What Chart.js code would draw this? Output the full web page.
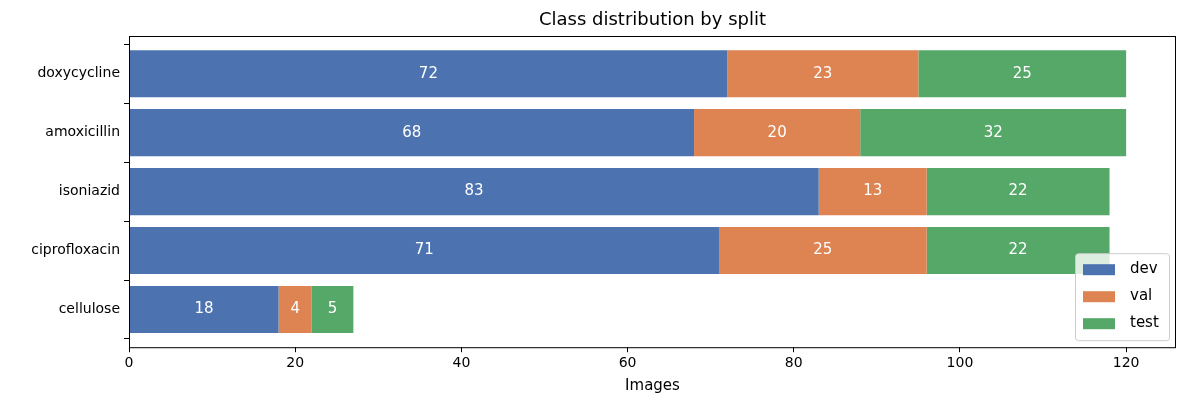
<!DOCTYPE html>
<html>
<head>
<meta charset="utf-8">
<script src="https://cdn.jsdelivr.net/npm/chart.js@4"></script>
<style>
  html, body { margin: 0; padding: 0; background: #fff; }
  #wrap { width: 1187px; height: 409px; }
</style>
</head>
<body>
<div id="wrap"><canvas id="c" width="1187" height="409"></canvas></div>
<script>
var categories = ['doxycycline', 'amoxicillin', 'isoniazid', 'ciprofloxacin', 'cellulose'];
var devValues = [72, 68, 83, 71, 18];
var valValues = [23, 20, 13, 25, 4];
var testValues = [25, 32, 22, 22, 5];
var xTicks = [0, 20, 40, 60, 80, 100, 120];

var font = 'DejaVu Sans, sans-serif';
Chart.defaults.font.family = font;
Chart.defaults.color = '#000';

function points(vals) {
    return vals.map(function (v, i) { return { x: v, y: i }; });
}

var barLabels = {
    id: 'barLabels',
    afterDatasetsDraw: function (chart) {
        var ctx = chart.ctx;
        ctx.save();
        ctx.fillStyle = '#fff';
        ctx.font = '15px ' + font;
        ctx.textAlign = 'center';
        ctx.textBaseline = 'middle';
        chart.data.datasets.forEach(function (ds, di) {
            chart.getDatasetMeta(di).data.forEach(function (bar, i) {
                var c = bar.getCenterPoint();
                ctx.fillText(String(ds.data[i].x), c.x, c.y);
            });
        });
        ctx.restore();
    }
};

var boxLegend = {
    id: 'boxLegend',
    afterDraw: function (chart) {
        var ctx = chart.ctx, a = chart.chartArea;
        var x0 = a.right - 101, y0 = a.bottom - 94, w = 94, h = 87;
        ctx.save();
        ctx.fillStyle = 'rgba(255,255,255,0.8)';
        ctx.strokeStyle = '#ccc';
        ctx.lineWidth = 1;
        ctx.beginPath();
        ctx.roundRect(x0 + 0.5, y0 + 0.5, w, h, 3);
        ctx.fill();
        ctx.stroke();
        ctx.font = '15px ' + font;
        ctx.textBaseline = 'middle';
        chart.data.datasets.forEach(function (ds, i) {
            var yy = y0 + 16 + i * 27;
            ctx.fillStyle = ds.backgroundColor;
            ctx.fillRect(x0 + 8, yy - 5, 32, 11);
            ctx.fillStyle = '#000';
            ctx.fillText(ds.label, x0 + 55, yy);
        });
        ctx.restore();
    }
};

var titlePlugin = {
    id: 'titlePlugin',
    afterDraw: function (chart) {
        var ctx = chart.ctx, a = chart.chartArea;
        ctx.save();
        ctx.font = '18px ' + font;
        ctx.textAlign = 'center';
        ctx.textBaseline = 'middle';
        ctx.fillStyle = '#000';
        ctx.fillText('Class distribution by split', (a.left + a.right) / 2, 20);
        ctx.strokeStyle = '#000';
        ctx.lineWidth = 1;
        ctx.strokeRect(a.left + 0.5, a.top + 0.5, a.right - a.left - 1, a.bottom - a.top);
        ctx.restore();
    }
};

new Chart(document.getElementById('c'), {
    type: 'bar',
    data: {
        datasets: [
            { label: 'dev', data: points(devValues), backgroundColor: '#4c72b0' },
            { label: 'val', data: points(valValues), backgroundColor: '#dd8452' },
            { label: 'test', data: points(testValues), backgroundColor: '#55a868' }
        ]
    },
    options: {
        indexAxis: 'y',
        responsive: false,
        animation: false,
        layout: { padding: { top: 36, right: 11, bottom: 10, left: 0 } },
        datasets: { bar: { barPercentage: 0.8, categoryPercentage: 1 } },
        plugins: { legend: { display: false }, tooltip: { enabled: false } },
        scales: {
            x: {
                type: 'linear',
                stacked: true,
                min: 0,
                max: 126,
                afterBuildTicks: function (s) { s.ticks = xTicks.map(function (v) { return { value: v }; }); },
                grid: { display: true, drawOnChartArea: false, drawTicks: true, tickLength: 5, tickColor: '#000' },
                border: { display: false },
                ticks: { font: { size: 14 }, padding: 3 },
                title: { display: true, text: 'Images', font: { size: 15 }, padding: { top: 2 } }
            },
            y: {
                type: 'linear',
                stacked: true,
                reverse: true,
                offset: false,
                min: -0.64,
                max: 4.64,
                afterBuildTicks: function (s) { s.ticks = categories.map(function (c, i) { return { value: i }; }); },
                afterFit: function (s) { s.width = 129; },
                grid: { display: true, drawOnChartArea: false, tickLength: 5, tickColor: '#000' },
                border: { display: false },
                ticks: {
                    font: { size: 14 },
                    padding: 4,
                    callback: function (v) { return categories[v]; }
                }
            }
        }
    },
    plugins: [barLabels, boxLegend, titlePlugin]
});
</script>
</body>
</html>
